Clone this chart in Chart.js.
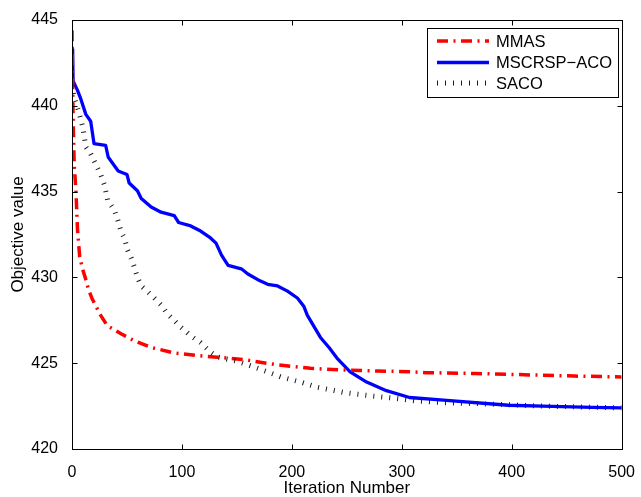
<!DOCTYPE html>
<html><head><meta charset="utf-8">
<script src="https://cdn.jsdelivr.net/npm/chart.js@4/dist/chart.umd.min.js"></script>
<style>html,body{margin:0;padding:0;background:#fff}#wrap{width:641px;height:497px}</style>
</head><body><div id="wrap"><canvas id="c" width="641" height="497"></canvas></div>
<script>
// ---- data ----
const mmasIter = [0, 1, 2, 3.6, 5, 7, 10, 12, 15, 18, 22, 25, 32, 45, 57, 73, 93, 113, 132, 157, 187, 217, 247, 277, 307, 322, 367, 428, 457, 500];
const mmasVal  = [444.4, 439.3, 436.6, 435.0, 432.8, 431.2, 430.4, 430.0, 429.3, 428.8, 428.3, 427.9, 427.2, 426.7, 426.3, 425.9, 425.6, 425.45, 425.35, 425.2, 424.9, 424.7, 424.6, 424.55, 424.5, 424.45, 424.4, 424.3, 424.25, 424.2];

const mscIter = [0, 0.6, 1, 5, 8, 12.6, 17, 20, 30.6, 33, 42, 50, 52, 59.5, 63, 72, 81, 93, 97, 108, 117, 126, 131, 136, 142, 154, 160, 171, 178, 187, 196, 205, 211, 214, 226, 234, 241, 253, 268, 286, 307, 338, 397, 428, 473, 500];
const mscVal  = [443.3, 443.15, 441.45, 440.9, 440.4, 439.5, 439.1, 437.8, 437.7, 437.0, 436.2, 436.0, 435.5, 435.05, 434.6, 434.1, 433.8, 433.6, 433.2, 433.0, 432.7, 432.3, 432.0, 431.3, 430.7, 430.5, 430.2, 429.8, 429.6, 429.5, 429.2, 428.8, 428.3, 427.8, 426.5, 425.9, 425.3, 424.5, 423.9, 423.4, 423.0, 422.85, 422.55, 422.5, 422.43, 422.4];

const sacoIter = [0, 2, 6, 10, 12.6, 17, 21.6, 26, 29.7, 32.4, 38.7, 41.4, 45, 47.7, 50.5, 54, 56.7, 59.5, 63, 68.5, 74.8, 81, 86.5, 92.8, 99, 108, 117, 126, 133, 151, 169, 190, 208, 223, 247, 271, 292, 313, 338, 367, 428, 500];
const sacoVal  = [441.2, 440.45, 439.7, 438.7, 437.6, 437.2, 436.6, 436.0, 435.35, 434.5, 433.9, 433.4, 432.6, 432.3, 431.6, 431.1, 430.6, 430.0, 429.5, 429.2, 428.8, 428.4, 427.9, 427.5, 427.1, 426.6, 426.2, 425.65, 425.35, 425.1, 424.7, 424.2, 423.9, 423.6, 423.3, 423.1, 422.97, 422.8, 422.7, 422.65, 422.5, 422.4];

const xTicks = [0, 100, 200, 300, 400, 500];
const yTicks = [420, 425, 430, 435, 440, 445];
const seriesNames = ['MMAS', 'MSCRSP\u2212ACO', 'SACO'];
const xTitle = 'Iteration Number';
const yTitle = 'Objective value';

// ---- styling ----
const FAMILY = '"Liberation Sans", Arial, Helvetica, sans-serif';
const TICKFONT = {family: FAMILY, size: 16};
const TITLEFONT = {family: FAMILY, size: 17, lineHeight: 1.0};
const LEGENDSIZE = 16.5;
const styles = [
  {color: '#ff0000', width: 3.5, dash: [11, 5.5, 2, 5.5]},
  {color: '#0000ff', width: 3.3, dash: []},
  {color: '#1a1a1a', width: 5, dash: [1, 7]}
];
const toPts = (xs, ys) => xs.map((v, i) => ({x: v, y: ys[i]}));
const seriesData = [toPts(mmasIter, mmasVal), toPts(mscIter, mscVal), toPts(sacoIter, sacoVal)];

const frameLegend = {
  id: 'frameLegend',
  afterDraw(chart) {
    const {ctx, chartArea: a, scales: {x, y}} = chart;
    ctx.save();
    const L = Math.round(a.left) + 0.5, R = Math.round(a.right) + 0.5;
    const T = Math.round(a.top) + 0.5, B = Math.round(a.bottom) + 0.5;
    ctx.strokeStyle = '#000'; ctx.lineWidth = 1; ctx.setLineDash([]);
    ctx.strokeRect(L, T, R - L, B - T);
    const tl = 5;
    ctx.beginPath();
    xTicks.forEach(v => {
      const px = Math.round(x.getPixelForValue(v)) + 0.5;
      ctx.moveTo(px, B); ctx.lineTo(px, B - tl);
      ctx.moveTo(px, T); ctx.lineTo(px, T + tl);
    });
    yTicks.forEach(v => {
      const py = Math.round(y.getPixelForValue(v)) + 0.5;
      ctx.moveTo(L, py); ctx.lineTo(L + tl, py);
      ctx.moveTo(R, py); ctx.lineTo(R - tl, py);
    });
    ctx.stroke();
    // legend
    const bx = 427.5, by = 28.5, bw = 191, bh = 69;
    ctx.fillStyle = '#fff';
    ctx.fillRect(bx, by, bw, bh);
    ctx.strokeRect(bx, by, bw, bh);
    const rows = [41, 62.5, 83];
    ctx.font = LEGENDSIZE + 'px ' + FAMILY;
    ctx.textBaseline = 'middle';
    seriesNames.forEach((name, i) => {
      const s = styles[i];
      ctx.save();
      ctx.strokeStyle = s.color; ctx.lineWidth = s.width; ctx.setLineDash(s.dash); ctx.lineCap = 'butt';
      ctx.beginPath(); ctx.moveTo(437, rows[i]); ctx.lineTo(489, rows[i]); ctx.stroke();
      ctx.restore();
      ctx.fillStyle = '#000';
      ctx.fillText(name, 496, rows[i] + 1);
    });
    ctx.restore();
  }
};

new Chart(document.getElementById('c'), {
  type: 'line',
  data: {
    datasets: seriesNames.map((n, i) => ({
      label: n,
      data: seriesData[i],
      borderColor: styles[i].color,
      borderWidth: styles[i].width,
      borderDash: styles[i].dash,
      borderCapStyle: 'butt',
      borderJoinStyle: 'round',
      pointRadius: 0,
      tension: 0,
      fill: false,
      order: [1, 2, 0][i]
    }))
  },
  options: {
    responsive: false,
    devicePixelRatio: 1,
    animation: false,
    layout: {padding: {top: 20, right: 14, bottom: 0, left: 0}},
    plugins: {legend: {display: false}, tooltip: {enabled: false}},
    scales: {
      x: {
        type: 'linear', min: 0, max: 500,
        afterBuildTicks: s => { s.ticks = xTicks.map(v => ({value: v})); },
        afterFit: s => { s.height = 48; },
        grid: {display: false},
        border: {display: false},
        ticks: {font: TICKFONT, color: '#000', padding: 6, maxRotation: 0, autoSkip: false},
        title: {display: true, text: xTitle, font: TITLEFONT, color: '#000', padding: {top: 0, bottom: 0}}
      },
      y: {
        type: 'linear', min: 420, max: 445,
        afterBuildTicks: s => { s.ticks = yTicks.map(v => ({value: v})); },
        afterFit: s => { s.width = 72; },
        grid: {display: false},
        border: {display: false},
        ticks: {font: TICKFONT, color: '#000', padding: 6, autoSkip: false},
        title: {display: true, text: yTitle, font: TITLEFONT, color: '#000', padding: {top: 10, bottom: 0}}
      }
    }
  },
  plugins: [frameLegend]
});
</script>
</body></html>
